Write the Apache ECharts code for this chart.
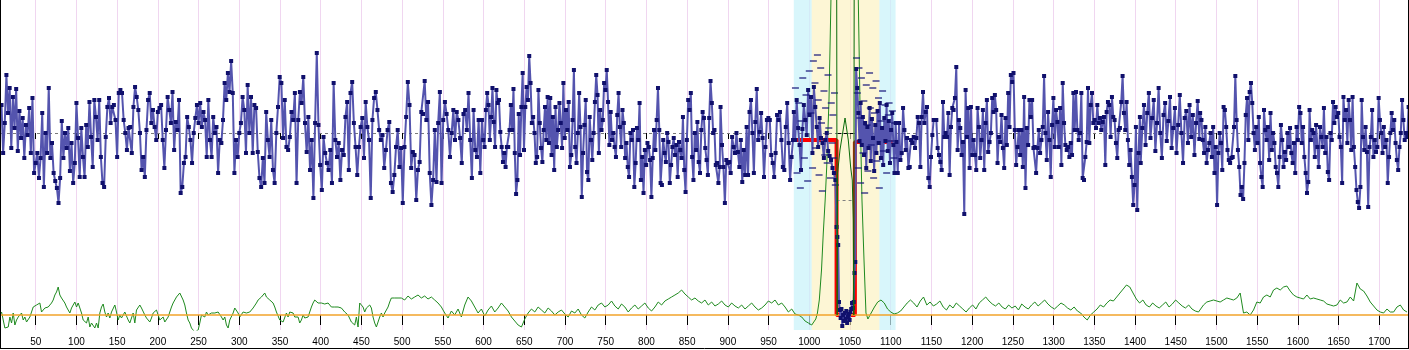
<!DOCTYPE html>
<html>
<head>
<meta charset="utf-8">
<script src="https://cdn.jsdelivr.net/npm/echarts/dist/echarts.min.js"></script>
<style>
html,body{margin:0;padding:0;background:#fff;}
#chart{width:1409px;height:350px;}
</style>
</head>
<body>
<div id="chart"></div>
<script>
// ---- signal trace (upper panel), one array per stretch of the scan ----
const blueA = [28,-20,10,58,20,45,-15,36,5,44,-18,22,-5,15,-25,8,-2,25,-20,35,-40,-30,-20,-45,-25,20,-54,0,-20,45,-25,-10,-40,-48,-55,-70,-45,12,-25,0,-15,5,-38,-10,-50,-30,30,-5,-44,5,
  -24,-44,8,-14,31,-4,-34,33,16,-7,33,-24,-50,-54,-4,26,35,10,26,28,13,-24,40,43,40,13,0,-17,5,6,-20,26,46,36,23,0,-37,-24,-44,3,33,40,10,23,6,-7,21,25,28,-7,
  -35,3,36,23,10,41,-17,11,3,33,-60,-54,-30,-24,16,6,-7,-30,0,15,28,10,30,6,21,13,-24,33,-7,-24,16,0,6,-40,-7,-10,13,50,33,60,41,72,40,-40,-7,-24,0];
const blueB = [10,36,23,-20,48,0,36,-20,28,25,-19,-45,-54,-25,-50,21,-7,-24,13,-37,-50,0,26,56,50,-5,33,-14,-17,-4,
  21,13,40,-50,13,41,30,56,10,-19,16,-37,-7,-65,10,80,8,-32,-57,-4,-20,-30,-37,-17,-50,50,-7,-24,-10,-47,
  -17,-22,16,31,-37,40,51,10,-14,-42,-14,6,15,-25,31,6,-7,-65,13,35,41,23,3,-7,-2,-35,-17,3,11,-50,
  -59,-42,-14,3,-34,-15,-70,-14,16,51,28,-35,-19,-22,-67,-37,-29,21,19,52,13,31,-40,-72,-47,3,-49,10,41,-50,
  13,31,19,3,-24,0,23,-7,21,13,-5,-30,19,23,3,40,-7,-45,23,-17,-24,13,-40];
const blueC = [13,-7,-14,23,40,28,-7,16,45,11,-14,43,30,33,1,-14,-29,-20,-34,-14,-14,3,28,3,44,-20,-61,-47,19,-22,
  26,60,-17,26,46,33,77,50,10,16,0,-30,-24,43,10,-15,-29,3,26,-7,36,-10,35,-22,16,-37,26,-14,3,30,
  10,-15,50,-5,23,3,31,-34,-22,13,63,-14,-30,0,40,6,-64,-20,8,33,-39,-47,16,-7,-27,0,31,58,38,-20,
  23,3,13,50,43,63,31,-12,21,-7,0,-14,-24,18,40,6,-14,23,10,-25,-10,-34,-44,0,-7,3,-54,-30,5,-7,
  30,-47,-24,-60,-17,-32,-10,-14,-27,-64,-25,3,-17,13,45,3,-50,-52,-7,-20,-29,0,-9,-50,-32,-14,-5,-22,-12,-44,
  -9,-17,-25,16,-37,-59,-7,33,23,40,-24,-47,0,-17,11,-29,-40,3,21,15,-15,-27,-42,15,52,30,0,3,-32,-30,-50,-34];
const blueD = [26,-12,-34,-70,-27,-30,-29,-40,-4,-14,-20,0,-19,-34,-7,-49,-17,-42,6,-42,21,33,0,-40,11,44,-7,1,20,-5,
  -44,-14,13,15,13,-22,-30,-44,-20,18,13,21,-7,-34,-37,6,30,-10,-47,-24,-7];
const blueE = [21,-7,33,5,-12,-37,4,28,13,-2,43,18,36,-20,46,26,6,-14,15,-5,-10,-25,-7,0,-18,-23,-27,-35,-40,-47];
const blueDip = [-94,-104,-112,-169,-177,-185,-176,-193,-182,-188,-180,-186,-178,-190,-184,-181,-187,-179,-176,-170,-175,-169,-140,-129];
const blueF = [64,45,20,-8,30,-12,16,-22,10,-35,6,-15,25,-28,14,-5,-38,8,-20,22,-10,30,-25,5,-32,15,-8,28,-18,12,-30,3,20,-12,-40,10];
const blueG = [-9,-40,10,-27,-20,25,3,-17,-5,-35,-34,-7,-10,-4,-15,-5,16,10,-34,16,41,10,21,26,-45,-54,-24,-2,13,13,
  13,-15,-22,-29,-37,31,-4,0,-4,20,-42,6,25,23,35,66,-17,13,5,-22,-9,-81,43,-4,25,-35,26,-22,-7,-22,
  -37,25,6,-25,-7,23,-37,10,33,-19,-9,0,35,21,38,23,-30,-4,-9,18,-15,-35,15,-12,40,6,58,51,60,3,
  -32,-14,3,-22,3,-34,36,-55,5,-12,33,16,33,-15,-14,-40,-15,3,-20,-7,6,57,0,-27,21,-7,-44,8,35,-14,
  23,11,-14,25,-32,50,10,-12,-17,-14,-24,-10,-22,40,3,41,3,-7,0,40,-45,-47,-24,-9,45,-10,28,40,10,13,
  5,28,10,15,3,11,16,-32,21,31,28,-4,36,16,13,-10,-25,3,5,31,57,20,3,31,-7,-32,-17,-44,-72,-52,6,-77,-20,16];
const blueH = [-30,5,28,-12,20,40,-5,15,33,-18,10,45,0,-25,18,30,-8,12,36,-15,5,25,-20,8,38,0,-30,15,22,-10,28,-4,18,-22,10,32,-6];
const blueI = [20,13,-7,-20,6,-30,-17,-10,0,-24,6,-40,-14,-72,-20,0,-10,-37,26,23,6,-17,-27,-30,-25,-24,6,57,13,-17,
  -34,-62,-54,-66,-30,18,35,-7,41,50,30,0,-17,6,-10,16,-30,-44,-54,23,3,-7,6,-27,20,-17,0,-10,-34,-40,
  -54,-24,8,-7,-34,-19,-27,0,-14,5,-20,-30,-10,-40,6,-7,26,20,-10,6,-24,-40,-60,-49,23,-7,3,0,-24,8,
  -14,-34,6,-4,-14,25,-20,-4,-39,-47,0,-7,31,10,26,16,20,-4,-14,-50,36,13,23,-10,33,13,-17,36,-14,-34,
  -57,-69,-75,-54,33,-4,-17,6,-19,-74,-14,-4,23,-24,-7,-19,-14,35,13,0,-20,6,-14,-7,-50,-24,0,20,3,13,
  -10,-27,-37,-14,0,33,13,-7,0,-4,26];
const blueSpans = [[8,300],[302,596],[598,890],[891,980],[981,1032],[1033.5,1056.5],[1057.5,1106],[1107,1406],[1407,1479],[1480,1736]];

// ---- replicate readings around the transition (short dashes) ----
const repPoints = [[983,45],[985,-40],[987,30],[989,-55],[990,12],[992,55],[994,-25],[996,38],[998,-48],[1000,62],[1002,20],[1004,-35],
  [1005,72],[1007,50],[1008,-15],[1010,78],[1011,33],[1012,-42],[1014,65],[1015,10],[1016,-58],[1018,42],[1019,-22],[1020,25],
  [1022,-30],[1023,58],[1024,5],[1026,-45],[1027,30],[1028,-10],[1029,18],[1030,-25],[1031,40],[1032,-52],
  [1058,75],[1059,40],[1060,-35],[1061,65],[1062,15],[1063,-50],[1064,55],[1066,-20],[1067,32],[1068,-60],[1070,48],[1071,8],
  [1072,-38],[1074,60],[1075,25],[1076,-12],[1078,45],[1079,-45],[1080,20],[1082,52],[1083,-28],[1085,35],[1086,-55],[1088,12],
  [1090,42],[1091,-18],[1093,28],[1095,-40],[1097,18],[1098,30],[1100,-8],[1102,22],[1104,-25],[1105,10]];

// ---- step model: level, drop, level ----
const stepPoints = [[980,-7],[1033.5,-7],[1033.5,-182],[1056,-182],[1056,-9],[1107,-9]];

// ---- lower panel trace ----
const greenA = [0,3,2,-13,-15,-12,-2,-8,2,-10,-5,-2,-3,2,-5,-2,-7,-8,-2,3,
  8,7,10,8,12,3,2,7,5,8,10,12,15,20,23,28,20,17,15,12,
  8,5,2,7,10,13,8,12,7,2,-5,-7,-8,-2,-12,-8,-10,-13,-8,-13,
  2,8,11,3,-2,2,-3,3,5,10,3,-5,0,-3,-2,3,5,-5,-8,-3,
  2,-8,5,7,10,7,8,0,-3,-2,-7,-3,2,3,5,0,-5,-7,-2,-7,
  -5,-2,3,8,12,15,18,20,22,21,15,10,2,-5,-8,-13,-15,-17,-18,-15,
  -8,0,2,-2,3,0,-2,2,3,2,0,3,2,-2,-5,-2,-10,-13,-5,-7,
  2,7,5,2,-2,0,3,5,2,3,3,5,7,8,12,15,17,18,20,22,
  18,17,15,13,12,8,3,2,-5,-7,-7,-5,2,-2,3,3,2,-2,0,-2,
  -8,-5,0,-3,-5,-2,3,8,12,15,13,12,10,12,11,11,10,12,10,8,
  10,8,7,8,8,7,8,3,2,0,-2,-7,-8,-10,-2,-12,12,13,8,3,
  7,5,10,7,-2,-8,-12,-10,-2,2,-2,2,3,8,13,17,15,17,18,17,15];
const greenB = [17,15,19,16,18,20,17,19,16,18,15,12,
  8,2,-3,4,0,6,-2,10,18,
  14,8,2,6,-1,5,9,3,7,
  12,8,4,-2,-6,-10,-12,-4,2,
  6,3,8,5,2,7,4,0,3,
  5,1,-2,4,2,6,0,-3,3,8,5,10,
  12,8,10,14,9,6,11,8,3,7,10,6,
  9,12,7,4,8,13,10,14,16,
  18,20,22,25,21,18,15,17,14,
  12,15,10,13,9,11,14,10,8,12,9,7,
  10,6,9,12,8,5,7,10,14,12,15,10,
  12,8,3,6,1,0,-2,-6,-8,-10];
const greenPeak = [[1005,-10],[1008,-4],[1010,2],[1012.3,15],[1015,45],[1017.2,82],[1019.5,115],[1021.4,148],[1024.2,215],[1026.6,315],
  [1030,430],[1036,540],[1044,580],[1052,540],[1057,430],[1060.2,315],[1062.2,215],[1064.7,115],[1067.2,55],[1069.6,2],[1072,-4],[1074.6,0]];
const greenC = [0,8,13,15,12,6,3,1,2,
  4,8,12,15,12,8,14,18,10,13,
  9,11,14,8,5,10,7,12,9,6,
  3,7,10,6,12,15,18,14,11,9,
  12,8,6,10,7,9,5,11,8,6,
  10,13,9,12,15,11,8,6,9,12,
  10,7,5,8,4,2,-2,-5,0,3,
  6,10,8,12,15,14,18,22,26,30,
  28,22,16,12,15,10,8,12,9,7,
  10,13,8,11,15,12,9,7,10,6,4,3];
const greenD = [3,10,13,14,15,14,13,15,17,16,15,17,22,2,3,0,5,13,12,18,20,18,25,27,25,28,29,24,20,18,17,16,20,16,17,16,15,14,11,10,
  9,10,15,12,13,18,14,32,26,24,19,13,9,5,3,2,6,3,3,8,10,5,3];
const greenSpans = [[6,497],[499,1003],null,[1076,1478],[1480,1734]];

// ---- ratio trace inside the transition ----
const ratioPoints = [[1033.2,600],[1034.2,0],[1034.8,142],[1037.7,165],[1041.0,182],[1043.9,197],[1047.9,175],[1050.8,148],[1052.8,135],[1054.0,95],[1054.7,0],[1055.5,600]];

// ---- shaded windows ----
const outerWindow = [981, 1106];
const innerWindow = [1003, 1086];

function spread(vals, x0, x1) {
  const step = (x1 - x0) / (vals.length - 1);
  return vals.map((v, i) => [x0 + i * step, v]);
}

const blueSegs = [blueA, blueB, blueC, blueD, blueE, blueDip, blueF, blueG, blueH, blueI];
let blueData = [];
blueSegs.forEach((s, k) => { blueData = blueData.concat(spread(s, blueSpans[k][0], blueSpans[k][1])); });

const greenData = []
  .concat(spread(greenA, greenSpans[0][0], greenSpans[0][1]))
  .concat(spread(greenB, greenSpans[1][0], greenSpans[1][1]))
  .concat(greenPeak)
  .concat(spread(greenC, greenSpans[3][0], greenSpans[3][1]))
  .concat(spread(greenD, greenSpans[4][0], greenSpans[4][1]));

const chart = echarts.init(document.getElementById('chart'), null, {renderer: 'canvas'});

const font = "'Liberation Sans', Arial, sans-serif";

chart.setOption({
  animation: false,
  backgroundColor: '#ffffff',
  grid: {left: -5, right: -11, top: 0, bottom: 20, containLabel: false, outerBoundsMode: 'none'},
  xAxis: [
    {
      type: 'value', min: 0, max: 1750, interval: 50, position: 'bottom',
      axisLine: {show: false},
      axisTick: {show: true, length: 6, lineStyle: {color: '#000', width: 1}},
      axisLabel: {
        show: true, margin: 7, fontSize: 10, color: '#000', fontFamily: font,
        formatter: v => (v > 0 && v < 1750) ? String(v) : ''
      },
      splitLine: {show: true, lineStyle: {color: '#f0d6f0', width: 1}}
    },
    {
      type: 'value', min: 0, max: 1750, interval: 50, position: 'top',
      axisLine: {show: false},
      axisTick: {show: true, inside: true, length: 10, lineStyle: {color: '#000', width: 1}},
      axisLabel: {show: false},
      splitLine: {show: false}
    }
  ],
  yAxis: [
    {type: 'value', min: -197, max: 133, show: false, splitLine: {show: false}},
    {type: 'value', min: -15, max: 315, show: false, splitLine: {show: false}}
  ],
  graphic: [
    {type: 'line', shape: {x1: 0.5, y1: 0, x2: 0.5, y2: 349}, style: {stroke: '#000', lineWidth: 1}, z: 100},
    {type: 'line', shape: {x1: 1408.5, y1: 0, x2: 1408.5, y2: 349}, style: {stroke: '#000', lineWidth: 1}, z: 100},
    {type: 'line', shape: {x1: 0, y1: 348.5, x2: 1409, y2: 348.5}, style: {stroke: '#000', lineWidth: 1}, z: 100}
  ],
  series: [
    {
      name: 'windows', type: 'line', data: [], xAxisIndex: 0, yAxisIndex: 0, z: 1, silent: true,
      markArea: {
        silent: true,
        data: [
          [{xAxis: outerWindow[0], itemStyle: {color: 'rgba(200,242,250,0.7)'}}, {xAxis: innerWindow[0]}],
          [{xAxis: innerWindow[1], itemStyle: {color: 'rgba(200,242,250,0.7)'}}, {xAxis: outerWindow[1]}],
          [{xAxis: innerWindow[0], itemStyle: {color: 'rgba(251,240,185,0.6)'}}, {xAxis: innerWindow[1]}]
        ]
      }
    },
    {
      name: 'trace', type: 'line', data: greenData, xAxisIndex: 0, yAxisIndex: 1, z: 3,
      showSymbol: false, lineStyle: {color: '#1f8a1f', width: 1}, itemStyle: {color: '#1f8a1f'},
      markLine: {
        silent: true, symbol: 'none', label: {show: false},
        lineStyle: {color: '#f2a32a', width: 1.5, type: 'solid'},
        data: [{yAxis: 0}]
      }
    },
    {
      name: 'ratio', type: 'line', data: ratioPoints, xAxisIndex: 0, yAxisIndex: 1, z: 6,
      showSymbol: false, lineStyle: {color: '#0b6b0b', width: 1}
    },
    {
      name: 'step', type: 'line', data: stepPoints, xAxisIndex: 0, yAxisIndex: 0, z: 4,
      showSymbol: false, lineStyle: {color: '#ff0000', width: 4},
      markLine: {
        silent: true, symbol: 'none', label: {show: false},
        data: [
          [{coord: [1033.5, -67], lineStyle: {color: '#808080', type: [3, 3], width: 1}}, {coord: [1056, -67]}],
          [{coord: [1033.5, 0], lineStyle: {color: '#000000', type: 'solid', width: 1}}, {coord: [1054, 0]}]
        ]
      }
    },
    {
      name: 'replicates', type: 'scatter', data: repPoints, xAxisIndex: 0, yAxisIndex: 0, z: 5,
      symbol: 'rect', symbolSize: [7, 1.5], itemStyle: {color: '#15157a'}
    },
    {
      name: 'signal', type: 'line', data: blueData, xAxisIndex: 0, yAxisIndex: 0, z: 5,
      showSymbol: true, showAllSymbol: true, symbol: 'rect', symbolSize: 4,
      lineStyle: {color: '#5454ae', width: 2}, itemStyle: {color: '#10106c'},
      markLine: {
        silent: true, symbol: 'none', label: {show: false},
        lineStyle: {color: '#7a7a7a', width: 1, type: [3, 3]},
        data: [{yAxis: 0}]
      }
    }
  ]
});
</script>
</body>
</html>
